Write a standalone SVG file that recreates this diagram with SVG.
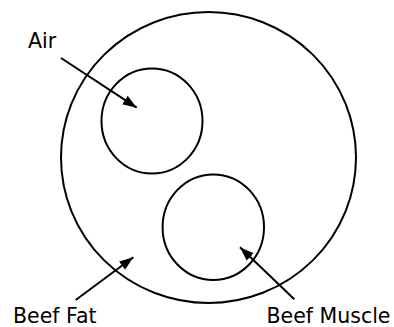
<svg xmlns="http://www.w3.org/2000/svg" width="394" height="327" viewBox="0 0 394 327">
<style>
.shape{fill:none;stroke:#000;stroke-width:2}
.conn{stroke:#000;stroke-width:2;fill:none}
.lbl{font-family:"DejaVu Sans",sans-serif;font-size:20.5px;fill:#000}
</style>
<defs>
<marker id="ah" markerUnits="userSpaceOnUse" markerWidth="15" markerHeight="11" refX="14" refY="5.5" orient="auto">
<path d="M0,0.5 L14,5.5 L0,10.5 z" fill="#000"/>
</marker>
</defs>
<rect width="394" height="327" fill="#fff"/>
<g id="beef-fat-region"><ellipse class="shape" cx="208.5" cy="157.5" rx="147.5" ry="145.5"/></g>
<g id="air-region"><ellipse class="shape" cx="152" cy="121" rx="50.5" ry="52.5"/></g>
<g id="beef-muscle-region"><ellipse class="shape" cx="213.3" cy="227.2" rx="50.7" ry="52.8"/></g>
<g id="label-air"><text class="lbl" x="28" y="48">Air</text></g>
<g id="label-beef-fat"><text class="lbl" x="13" y="323">Beef Fat</text></g>
<g id="label-beef-muscle"><text class="lbl" x="266.5" y="323">Beef Muscle</text></g>
<g id="connectors">
<line class="conn" x1="61" y1="58" x2="136.7" y2="107.7" marker-end="url(#ah)"/>
<line class="conn" x1="75.7" y1="300" x2="133.3" y2="257.3" marker-end="url(#ah)"/>
<line class="conn" x1="294.3" y1="299.3" x2="240" y2="247.3" marker-end="url(#ah)"/>
</g>
</svg>
